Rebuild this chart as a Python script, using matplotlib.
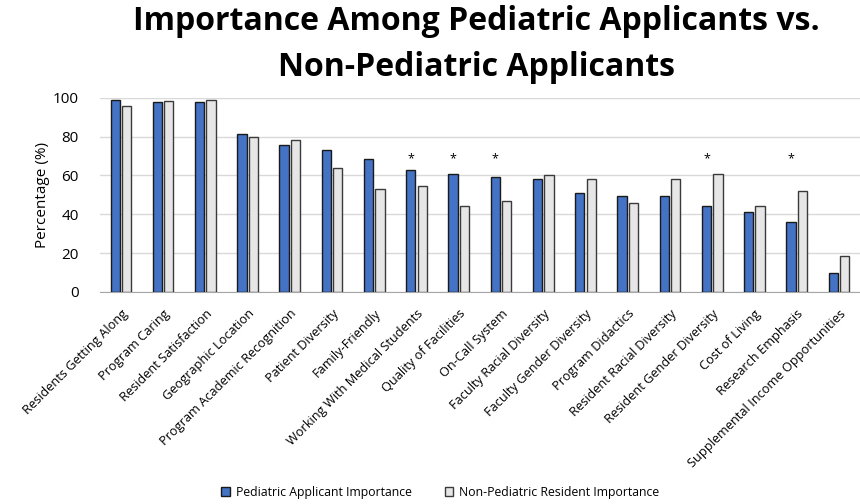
import matplotlib
matplotlib.use('Agg')
import matplotlib.pyplot as plt
import numpy as np

categories = [
    'Residents Getting Along', 'Program Caring', 'Resident Satisfaction',
    'Geographic Location', 'Program Academic Recognition', 'Patient Diversity',
    'Family-Friendly', 'Working With Medical Students', 'Quality of Facilities',
    'On-Call System', 'Faculty Racial Diversity', 'Faculty Gender Diversity',
    'Program Didactics', 'Resident Racial Diversity', 'Resident Gender Diversity',
    'Cost of Living', 'Research Emphasis', 'Supplemental Income Opportunities',
]
pediatric = [99.0, 97.6, 97.6, 81.5, 75.7, 72.9, 68.2, 63.0, 60.8, 59.2,
             58.0, 50.7, 49.5, 49.5, 44.3, 40.9, 35.8, 9.9]
non_pediatric = [95.9, 98.3, 98.6, 79.6, 78.3, 64.0, 53.1, 54.3, 44.3, 46.6,
                 60.1, 57.9, 45.7, 58.0, 60.8, 44.3, 51.7, 18.5]
significant = [7, 8, 9, 14, 16]
star_level = 68.5

plt.rcParams['font.family'] = ['Open Sans', 'DejaVu Sans']

fig = plt.figure(figsize=(8.6, 5.04), dpi=100)
ax = fig.add_axes([0.116, 0.421, 0.884, 0.385])

x = np.arange(len(categories))
w = 0.22
off = 0.135
ax.bar(x - off, pediatric, w, color='#4472C4', edgecolor='#1a1a1a', linewidth=1,
       label='Pediatric Applicant Importance', zorder=3)
ax.bar(x + off, non_pediatric, w, color='#E7E6E6', edgecolor='#3a3a3a', linewidth=1,
       label='Non-Pediatric Resident Importance', zorder=3)

# significance markers
for i in significant:
    ax.text(x[i] - off, star_level, '*', ha='center', va='center', fontsize=9)

ax.set_xlim(-0.5, len(categories) - 0.5)
ax.set_ylim(0, 100)
ax.set_yticks(range(0, 101, 20))
ax.yaxis.grid(True, color='#D9D9D9', linewidth=1, zorder=0)
ax.set_axisbelow(True)
for s in ['top', 'right', 'left']:
    ax.spines[s].set_visible(False)
ax.spines['bottom'].set_color('#A6A6A6')
ax.tick_params(axis='y', length=0, labelsize=11, pad=15)
ax.tick_params(axis='x', length=0, pad=11)
ax.set_xticks(x)
ax.set_xticklabels(categories, rotation=45, ha='right', rotation_mode='anchor',
                   fontsize=9.2)
ax.set_ylabel('Percentage (%)', fontsize=11, labelpad=2)

fig.text(0.554, 0.99, 'Importance Among Pediatric Applicants vs.\nNon-Pediatric Applicants',
         ha='center', va='top', fontsize=23, fontweight='bold', linespacing=1.5)

fig.legend(loc='lower center', bbox_to_anchor=(0.512, -0.012), ncol=2, frameon=False,
           fontsize=8.8, handlelength=0.7, handleheight=0.7, columnspacing=2.7,
           handletextpad=0.5)

fig.savefig('out.png', dpi=100)
